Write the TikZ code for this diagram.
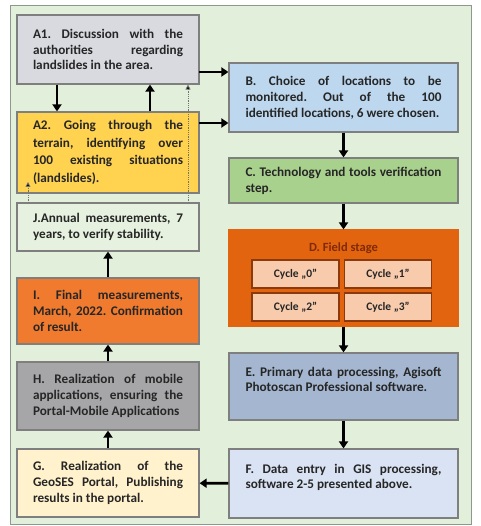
\documentclass[tikz,border=0pt]{standalone}
\usepackage{fontspec}
\setmainfont{Carlito}
\usetikzlibrary{arrows.meta}
\hyphenpenalty=10000
\exhyphenpenalty=10000
\frenchspacing

\definecolor{framegreen}{HTML}{E2EFDA}
\definecolor{framegrey}{HTML}{8C9A8C}
\definecolor{boxline}{HTML}{7F7F7F}
\definecolor{aonefill}{HTML}{D8DAE0}
\definecolor{atwofill}{HTML}{FFD24F}
\definecolor{jfill}{HTML}{E6F1DF}
\definecolor{ifill}{HTML}{F07A2E}
\definecolor{hfill}{HTML}{A6A6A8}
\definecolor{gfill}{HTML}{FFF2CC}
\definecolor{bfill}{HTML}{BDD7EE}
\definecolor{cfill}{HTML}{A9D18E}
\definecolor{dfill}{HTML}{E2640F}
\definecolor{dtext}{HTML}{7F2A08}
\definecolor{cyclefill}{HTML}{F8CBAD}
\definecolor{cycleline}{HTML}{8A3A0C}
\definecolor{efill}{HTML}{A4B6D0}
\definecolor{ffill}{HTML}{DAE3F3}
\definecolor{inktext}{HTML}{262626}

\tikzset{box/.style={draw=boxline,line width=1.2pt,align=justify,inner sep=0pt,text=inktext,
  font=\fontsize{13.2}{15.8}\selectfont\bfseries},
left box/.style={box,minimum width=182pt,text width=150pt},
right box/.style={box,minimum width=229pt,text width=196pt},
raised/.style={text depth=30pt},
cycle/.style={draw=cycleline,line width=1.2pt,fill=cyclefill,minimum width=87pt,minimum height=28pt,inner sep=0pt,text=inktext,font=\fontsize{11.5}{13}\selectfont\bfseries},
flow/.style={line width=2.6pt,-{Triangle[length=7pt,width=9pt]}},
back/.style={densely dotted,line width=0.8pt,draw=black!55,-{Triangle[length=5pt,width=5pt,fill=black]}}}

\begin{document}
\begin{tikzpicture}[x=1pt,y=-1pt]
\useasboundingbox (0,0) rectangle (480,526);

%% outer frame
\draw[draw=framegrey,fill=framegreen,line width=1pt] (10,6) rectangle (471,524);

%% Coordinates of box centres.
\coordinate (pa1) at (108.0,49.5);
\coordinate (pa2) at (108.0,152.5);
\coordinate (pj) at (108.0,227.0);
\coordinate (pi) at (108.0,311.0);
\coordinate (ph) at (108.0,396.0);
\coordinate (pg) at (108.0,483.0);
\coordinate (pb) at (343.5,97.5);
\coordinate (pc) at (343.5,180.5);
\coordinate (pd) at (343.5,278.0);
\coordinate (pe) at (343.5,386.5);
\coordinate (pf) at (343.5,483.5);

%% left column
\node[left box,fill=aonefill,minimum height=69pt] (a1) at (pa1) {A1. Discussion with the\linebreak authorities regarding\linebreak landslides in the area.};
\node[left box,fill=atwofill,minimum height=81pt,font=\fontsize{13.2}{17.5}\selectfont\bfseries] (a2) at (pa2) {A2. Going through the\linebreak terrain, identifying over\linebreak 100 existing situations\linebreak (landslides).};
\node[left box,fill=jfill,minimum height=48pt] (j) at (pj) {J.Annual measurements, 7\linebreak years, to verify stability.};
\node[left box,fill=ifill,minimum height=66pt] (i) at (pi) {I. Final measurements,\linebreak March, 2022. Confirmation\linebreak of result.};
\node[left box,fill=hfill,minimum height=68pt] (h) at (ph) {H. Realization of mobile\linebreak applications, ensuring the\linebreak Portal-Mobile Applications};
\node[left box,fill=gfill,minimum height=68pt] (g) at (pg) {G. Realization of the\linebreak GeoSES Portal, Publishing\linebreak results in the portal.};

%% right column
\node[right box,fill=bfill,minimum height=69pt] (b) at (pb) {B. Choice of locations to be\linebreak monitored. Out of the 100\linebreak identified locations, 6 were chosen.};
\node[right box,fill=cfill,minimum height=45pt] (c) at (pc) {C. Technology and tools verification\linebreak step.};
\node[right box,draw=dfill,fill=dfill,minimum height=96pt] (d) at (pd) {};
\node[right box,raised,fill=efill,minimum height=67pt] (e) at (pe) {E. Primary data processing, Agisoft\linebreak Photoscan Professional software.};
\node[right box,raised,fill=ffill,minimum height=69pt] (f) at (pf) {F. Data entry in GIS processing,\linebreak software 2-5 presented above.};

%% field stage
\node[font=\fontsize{12.5}{14}\selectfont\bfseries,text=dtext] (dtitle) at (343.5,248) {D. Field stage};
\node[cycle] (cy0) at (295.5,274) {Cycle „0”};
\node[cycle] (cy1) at (388.0,274) {Cycle „1”};
\node[cycle] (cy2) at (295.5,307) {Cycle „2”};
\node[cycle] (cy3) at (388.0,307) {Cycle „3”};

%% free ends of the side arrows
\coordinate (a1out) at (199,72);
\coordinate (a2out) at (199,123);
\coordinate (jleft) at (28,203);
\coordinate (jright) at (188,203);

%% arrows
\draw[flow] (a1.south -| 57,0) -- (a2.north -| 57,0);
\draw[flow] (a2.north -| 150,0) -- (a1.south -| 150,0);
\draw[flow] (a1out) -- (a1out -| b.west);
\draw[flow] (a2out) -- (a2out -| b.west);
\draw[flow] (b) -- (c);
\draw[flow] (c) -- (d);
\draw[flow] (d) -- (e);
\draw[flow] (e) -- (f);
\draw[flow] (f) -- (g);
\draw[flow] (g) -- (h);
\draw[flow] (h) -- (i);
\draw[flow] (i) -- (j);

%% dotted returns
\draw[back] (jleft) -- ++(0,-21);
\draw[back] (jright) -- (jright |- a1.south);

\end{tikzpicture}
\end{document}
